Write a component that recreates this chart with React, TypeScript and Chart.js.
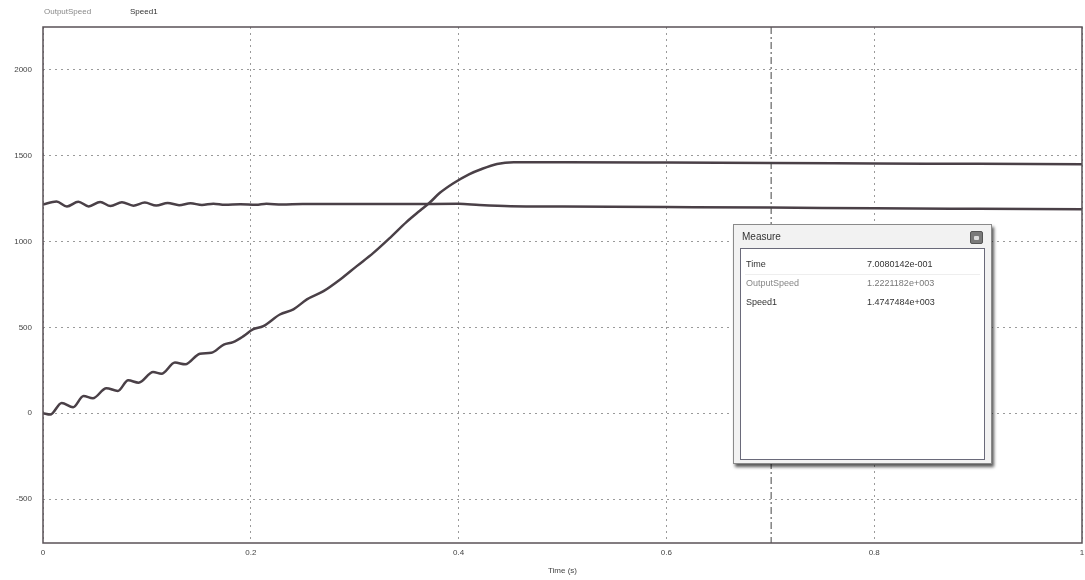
import React, { useEffect, useRef } from "react";
import Chart from "chart.js/auto";

const seriesNames = ["OutputSpeed", "Speed1"];

const outputTime = [
  0, 0.013, 0.023, 0.034, 0.044, 0.055, 0.065, 0.076, 0.087, 0.098, 0.109, 0.12,
  0.131, 0.142, 0.153, 0.164, 0.175, 0.19, 0.205, 0.215, 0.23, 0.25, 0.3, 0.35,
  0.4, 0.42, 0.45, 0.5, 0.6, 0.7, 0.8, 0.9, 1.0,
];
const outputSpeed = [
  1216, 1234, 1205, 1232, 1205, 1231, 1207, 1229, 1209, 1227, 1210, 1225,
  1212, 1223, 1213, 1221, 1215, 1218, 1214, 1220, 1216, 1219, 1219, 1219,
  1220, 1213, 1206, 1204, 1201, 1198, 1194, 1191, 1188,
];

const speed1Time = [
  0, 0.007, 0.018, 0.029, 0.039, 0.048, 0.061, 0.072, 0.082, 0.092, 0.106, 0.114,
  0.127, 0.137, 0.151, 0.162, 0.174, 0.183, 0.193, 0.202, 0.212, 0.228, 0.241,
  0.254, 0.27, 0.286, 0.302, 0.318, 0.334, 0.35, 0.363, 0.372, 0.382, 0.395,
  0.41, 0.421, 0.437, 0.453, 0.5, 0.6, 0.7, 0.8, 0.9, 1.0,
];
const speed1Values = [
  0, -8, 60, 35, 100, 87, 146, 130, 192, 178, 240, 230,
  295, 285, 347, 352, 400, 414, 449, 488, 507, 575, 605,
  663, 711, 779, 857, 934, 1022, 1115, 1181, 1226, 1284, 1340,
  1392, 1420, 1452, 1462, 1462, 1460, 1457, 1455, 1453, 1451,
];

const xTickValues = [0, 0.2, 0.4, 0.6, 0.8, 1];
const yTickValues = [-500, 0, 500, 1000, 1500, 2000];
const xRange = [0, 1];
const yRange = [-756, 2250];
const xTitle = "Time (s)";

const cursorTime = 0.70080142;
const measureTitle = "Measure";
const measureNames = ["Time", "OutputSpeed", "Speed1"];
const measureValues = ["7.0080142e-001", "1.2221182e+003", "1.4747484e+003"];

const FONT = "'Liberation Sans', Arial, sans-serif";

export default function App() {
  const canvasRef = useRef<HTMLCanvasElement | null>(null);

  useEffect(() => {
    const canvas = canvasRef.current;
    if (!canvas) return;

    const framePlugin = {
      id: "framePlugin",
      afterDatasetsDraw(chart: any) {
        const { ctx, chartArea, scales } = chart;
        ctx.save();
        const cx = scales.x.getPixelForValue(cursorTime);
        ctx.strokeStyle = "#444";
        ctx.lineWidth = 1;
        ctx.setLineDash([7, 3, 2, 3]);
        ctx.beginPath();
        ctx.moveTo(cx, chartArea.top);
        ctx.lineTo(cx, chartArea.bottom);
        ctx.stroke();
        ctx.setLineDash([]);
        ctx.strokeStyle = "#5a5257";
        ctx.lineWidth = 1.5;
        ctx.strokeRect(
          chartArea.left,
          chartArea.top,
          chartArea.right - chartArea.left,
          chartArea.bottom - chartArea.top
        );
        ctx.restore();
      },
    };

    const lineColor = "#4a4047";

    const chart = new Chart(canvas, {
      type: "line",
      data: {
        datasets: [
          {
            label: seriesNames[0],
            data: outputTime.map((t, i) => ({ x: t, y: outputSpeed[i] })),
            borderColor: lineColor,
            borderWidth: 2.5,
            pointRadius: 0,
            tension: 0.4,
            cubicInterpolationMode: "monotone",
          },
          {
            label: seriesNames[1],
            data: speed1Time.map((t, i) => ({ x: t, y: speed1Values[i] })),
            borderColor: lineColor,
            borderWidth: 2.5,
            pointRadius: 0,
            tension: 0.4,
            cubicInterpolationMode: "monotone",
          },
        ],
      },
      options: {
        animation: false,
        responsive: false,
        maintainAspectRatio: false,
        parsing: false as any,
        layout: { padding: { top: 27, right: 3, left: 0, bottom: 0 } },
        plugins: { legend: { display: false }, tooltip: { enabled: false } },
        scales: {
          x: {
            type: "linear",
            min: xRange[0],
            max: xRange[1],
            afterBuildTicks: (s: any) => {
              s.ticks = xTickValues.map((v) => ({ value: v }));
            },
            afterFit: (s: any) => {
              s.height = 37;
              s.paddingLeft = 0;
              s.paddingRight = 0;
            },
            ticks: {
              font: { family: FONT, size: 8 },
              color: "#444",
              padding: 5,
              maxRotation: 0,
              callback: (v: any) => String(v),
            },
            grid: { color: "#9a9a9a", lineWidth: 1, drawTicks: false },
            border: { display: false, dash: [2, 4] },
            title: {
              display: true,
              text: xTitle,
              font: { family: FONT, size: 8 },
              color: "#444",
              padding: { top: 0, bottom: 4 },
            },
          },
          y: {
            type: "linear",
            min: yRange[0],
            max: yRange[1],
            afterBuildTicks: (s: any) => {
              s.ticks = yTickValues.map((v) => ({ value: v }));
            },
            afterFit: (s: any) => {
              s.width = 43;
              s.paddingTop = 0;
              s.paddingBottom = 0;
            },
            ticks: {
              font: { family: FONT, size: 8 },
              color: "#444",
              padding: 11,
              callback: (v: any) => String(v),
            },
            grid: { color: "#9a9a9a", lineWidth: 1, drawTicks: false },
            border: { display: false, dash: [2, 4] },
          },
        },
      },
      plugins: [framePlugin],
    } as any);

    return () => chart.destroy();
  }, []);

  return (
    <div
      style={{
        position: "fixed",
        left: 0,
        top: 0,
        width: 1085,
        height: 580,
        background: "#fff",
        fontFamily: FONT,
      }}
    >
      <canvas ref={canvasRef} width={1085} height={580} style={{ display: "block" }} />
      <div style={{ position: "absolute", left: 44, top: 7, fontSize: 8, color: "#888" }}>
        {seriesNames[0]}
      </div>
      <div style={{ position: "absolute", left: 130, top: 7, fontSize: 8, color: "#333" }}>
        {seriesNames[1]}
      </div>
      <div
        style={{
          position: "absolute",
          left: 733,
          top: 224,
          width: 259,
          height: 240,
          background: "#f2f2f2",
          border: "1px solid #8a8a8a",
          boxShadow: "2px 3px 3px rgba(0,0,0,0.65)",
          boxSizing: "border-box",
        }}
      >
        <div style={{ position: "absolute", left: 8, top: 6, fontSize: 10, color: "#333" }}>
          {measureTitle}
        </div>
        <div
          style={{
            position: "absolute",
            right: 8,
            top: 6,
            width: 13,
            height: 13,
            background: "#7a7a7a",
            border: "1px solid #555",
            borderRadius: 2,
            boxSizing: "border-box",
          }}
        >
          <div
            style={{
              position: "absolute",
              left: 3,
              top: 4,
              width: 5,
              height: 4,
              background: "#ddd",
              borderRadius: 1,
            }}
          />
        </div>
        <div
          style={{
            position: "absolute",
            left: 6,
            top: 23,
            width: 245,
            height: 212,
            background: "#fff",
            border: "1px solid #6a6a7a",
            boxSizing: "border-box",
          }}
        >
          <div
            style={{
              position: "absolute",
              left: 4,
              right: 4,
              top: 25,
              height: 1,
              background: "#eee",
            }}
          />
          {measureNames.map((n, i) => (
            <React.Fragment key={n}>
              <div
                style={{
                  position: "absolute",
                  left: 5,
                  top: 10 + i * 19,
                  fontSize: 9,
                  color: i === 1 ? "#888" : "#333",
                }}
              >
                {n}
              </div>
              <div
                style={{
                  position: "absolute",
                  left: 126,
                  top: 10 + i * 19,
                  fontSize: 9,
                  color: i === 1 ? "#777" : "#333",
                }}
              >
                {measureValues[i]}
              </div>
            </React.Fragment>
          ))}
        </div>
      </div>
    </div>
  );
}
